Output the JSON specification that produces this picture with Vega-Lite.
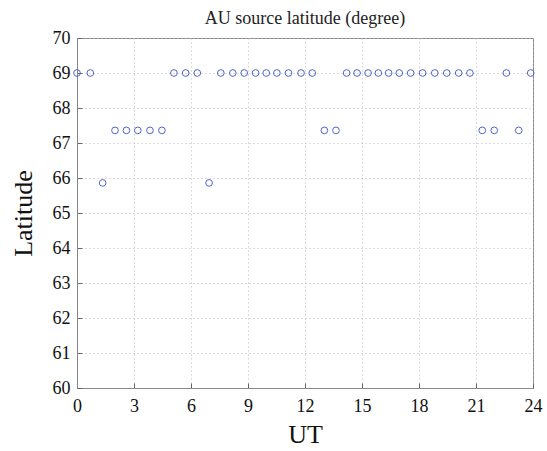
{
  "$schema": "https://vega.github.io/schema/vega-lite/v6.json",
  "width": 456,
  "height": 350,
  "autosize": "none",
  "padding": {"left": 77, "top": 38, "right": 14, "bottom": 63},
  "background": "white",
  "title": {"text": "AU source latitude (degree)", "font": "Times New Roman, Liberation Serif, serif", "fontSize": 18, "fontWeight": "normal", "color": "#222", "offset": 1},
  "config": {
    "view": {"stroke": "#888", "strokeWidth": 1},
    "axis": {"labelFont": "Times New Roman, Liberation Serif, serif", "titleFont": "Times New Roman, Liberation Serif, serif", "labelFontSize": 18, "titleFontSize": 26, "titleFontWeight": "normal", "labelColor": "#111", "titleColor": "#111", "domainColor": "#888", "tickColor": "#666", "gridColor": "#bbb", "gridDash": [1, 3], "tickSize": -5}
  },
  "data": {"values": [
    {"ut": 0.0, "lat": 69}, {"ut": 0.7, "lat": 69}, {"ut": 1.35, "lat": 65.86}, {"ut": 2.0, "lat": 67.36},
    {"ut": 2.6, "lat": 67.36}, {"ut": 3.2, "lat": 67.36}, {"ut": 3.84, "lat": 67.36}, {"ut": 4.47, "lat": 67.36},
    {"ut": 5.1, "lat": 69}, {"ut": 5.72, "lat": 69}, {"ut": 6.33, "lat": 69}, {"ut": 6.95, "lat": 65.86},
    {"ut": 7.57, "lat": 69}, {"ut": 8.2, "lat": 69}, {"ut": 8.8, "lat": 69}, {"ut": 9.4, "lat": 69},
    {"ut": 9.96, "lat": 69}, {"ut": 10.52, "lat": 69}, {"ut": 11.13, "lat": 69}, {"ut": 11.79, "lat": 69},
    {"ut": 12.38, "lat": 69}, {"ut": 13.02, "lat": 67.36}, {"ut": 13.63, "lat": 67.36}, {"ut": 14.19, "lat": 69},
    {"ut": 14.74, "lat": 69}, {"ut": 15.32, "lat": 69}, {"ut": 15.86, "lat": 69}, {"ut": 16.4, "lat": 69},
    {"ut": 16.96, "lat": 69}, {"ut": 17.56, "lat": 69}, {"ut": 18.19, "lat": 69}, {"ut": 18.83, "lat": 69},
    {"ut": 19.46, "lat": 69}, {"ut": 20.09, "lat": 69}, {"ut": 20.68, "lat": 69}, {"ut": 21.33, "lat": 67.36},
    {"ut": 21.96, "lat": 67.36}, {"ut": 22.6, "lat": 69}, {"ut": 23.25, "lat": 67.36}, {"ut": 23.88, "lat": 69}
  ]},
  "mark": {"type": "point", "shape": "circle", "filled": false, "color": "#5266c4", "size": 45, "strokeWidth": 1, "opacity": 1},
  "encoding": {
    "x": {"field": "ut", "type": "quantitative", "scale": {"domain": [0, 24], "nice": false, "zero": false},
      "axis": {"title": "UT", "values": [0, 3, 6, 9, 12, 15, 18, 21, 24], "labelPadding": 14, "titlePadding": 6, "labelFlush": false}},
    "y": {"field": "lat", "type": "quantitative", "scale": {"domain": [60, 70], "nice": false, "zero": false},
      "axis": {"title": "Latitude", "values": [60, 61, 62, 63, 64, 65, 66, 67, 68, 69, 70], "labelPadding": 12, "titlePadding": 16, "labelFlush": false}}
  }
}
